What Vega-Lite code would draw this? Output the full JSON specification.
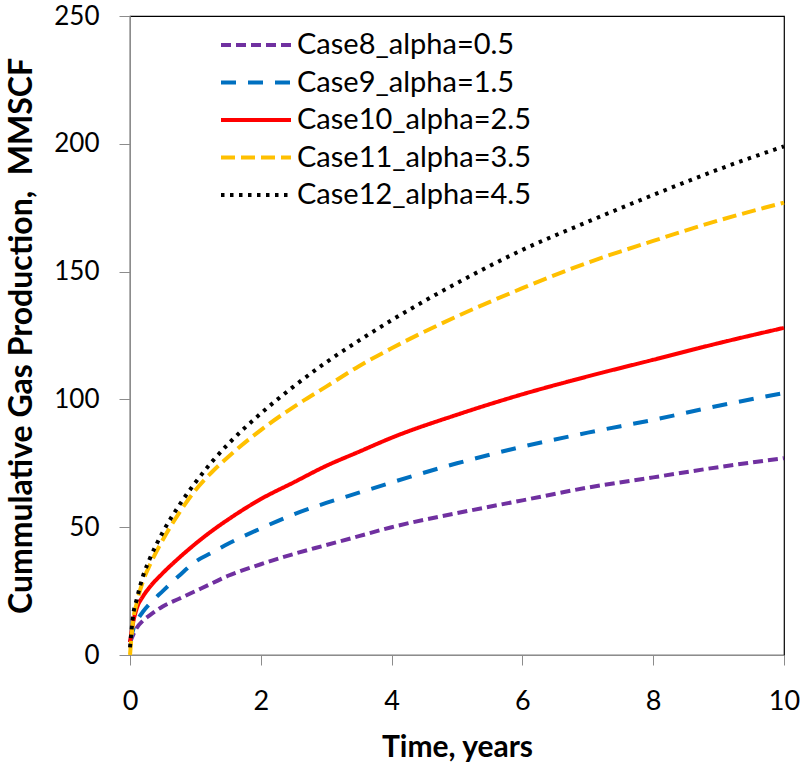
{
  "$schema": "https://vega.github.io/schema/vega-lite/v6.json",
  "width": 654,
  "height": 639,
  "autosize": "none",
  "padding": {"left": 130, "top": 16, "right": 22, "bottom": 110},
  "background": "white",
  "config": {
    "font": "Lato",
    "view": {"stroke": "#000000", "strokeWidth": 1.2},
    "axis": {"grid": false, "domainColor": "#8c8c8c", "tickColor": "#8c8c8c", "labelColor": "#000000", "titleColor": "#000000", "labelFont": "Lato", "titleFont": "Lato"}
  },
  "data": {"values": [
    {"s":"Case8_alpha=0.5","t":0,"v":5},{"s":"Case8_alpha=0.5","t":0.05,"v":8},{"s":"Case8_alpha=0.5","t":0.1,"v":10.5},{"s":"Case8_alpha=0.5","t":0.2,"v":13.5},{"s":"Case8_alpha=0.5","t":0.3,"v":15.5},{"s":"Case8_alpha=0.5","t":0.5,"v":19},{"s":"Case8_alpha=0.5","t":0.75,"v":22},{"s":"Case8_alpha=0.5","t":1,"v":25},{"s":"Case8_alpha=0.5","t":1.25,"v":28},{"s":"Case8_alpha=0.5","t":1.5,"v":31},{"s":"Case8_alpha=0.5","t":2,"v":35.5},{"s":"Case8_alpha=0.5","t":2.5,"v":39.5},{"s":"Case8_alpha=0.5","t":3,"v":43},{"s":"Case8_alpha=0.5","t":3.5,"v":46.5},{"s":"Case8_alpha=0.5","t":4,"v":50},{"s":"Case8_alpha=0.5","t":5,"v":55.5},{"s":"Case8_alpha=0.5","t":6,"v":60.5},{"s":"Case8_alpha=0.5","t":7,"v":65.5},{"s":"Case8_alpha=0.5","t":8,"v":69.5},{"s":"Case8_alpha=0.5","t":9,"v":73.5},{"s":"Case8_alpha=0.5","t":10,"v":77},
    {"s":"Case9_alpha=1.5","t":0,"v":5},{"s":"Case9_alpha=1.5","t":0.05,"v":10},{"s":"Case9_alpha=1.5","t":0.1,"v":13},{"s":"Case9_alpha=1.5","t":0.2,"v":17},{"s":"Case9_alpha=1.5","t":0.3,"v":20},{"s":"Case9_alpha=1.5","t":0.5,"v":25},{"s":"Case9_alpha=1.5","t":0.75,"v":31},{"s":"Case9_alpha=1.5","t":1,"v":36.5},{"s":"Case9_alpha=1.5","t":1.25,"v":40},{"s":"Case9_alpha=1.5","t":1.5,"v":43.5},{"s":"Case9_alpha=1.5","t":2,"v":49.5},{"s":"Case9_alpha=1.5","t":2.5,"v":55},{"s":"Case9_alpha=1.5","t":3,"v":59.5},{"s":"Case9_alpha=1.5","t":3.5,"v":63.5},{"s":"Case9_alpha=1.5","t":4,"v":67.5},{"s":"Case9_alpha=1.5","t":5,"v":75},{"s":"Case9_alpha=1.5","t":6,"v":81.5},{"s":"Case9_alpha=1.5","t":7,"v":87},{"s":"Case9_alpha=1.5","t":8,"v":92},{"s":"Case9_alpha=1.5","t":9,"v":97.5},{"s":"Case9_alpha=1.5","t":10,"v":102.5},
    {"s":"Case10_alpha=2.5","t":0,"v":5},{"s":"Case10_alpha=2.5","t":0.05,"v":13},{"s":"Case10_alpha=2.5","t":0.1,"v":18},{"s":"Case10_alpha=2.5","t":0.2,"v":23},{"s":"Case10_alpha=2.5","t":0.3,"v":26.5},{"s":"Case10_alpha=2.5","t":0.5,"v":32},{"s":"Case10_alpha=2.5","t":0.75,"v":38},{"s":"Case10_alpha=2.5","t":1,"v":43.5},{"s":"Case10_alpha=2.5","t":1.25,"v":48.5},{"s":"Case10_alpha=2.5","t":1.5,"v":53},{"s":"Case10_alpha=2.5","t":2,"v":61},{"s":"Case10_alpha=2.5","t":2.5,"v":67.5},{"s":"Case10_alpha=2.5","t":3,"v":74},{"s":"Case10_alpha=2.5","t":3.5,"v":79.5},{"s":"Case10_alpha=2.5","t":4,"v":85},{"s":"Case10_alpha=2.5","t":5,"v":94},{"s":"Case10_alpha=2.5","t":6,"v":102},{"s":"Case10_alpha=2.5","t":7,"v":109},{"s":"Case10_alpha=2.5","t":8,"v":115.5},{"s":"Case10_alpha=2.5","t":9,"v":122},{"s":"Case10_alpha=2.5","t":10,"v":128},
    {"s":"Case11_alpha=3.5","t":0,"v":0},{"s":"Case11_alpha=3.5","t":0.05,"v":14},{"s":"Case11_alpha=3.5","t":0.1,"v":20},{"s":"Case11_alpha=3.5","t":0.2,"v":29},{"s":"Case11_alpha=3.5","t":0.3,"v":35},{"s":"Case11_alpha=3.5","t":0.5,"v":45},{"s":"Case11_alpha=3.5","t":0.75,"v":55.5},{"s":"Case11_alpha=3.5","t":1,"v":64.5},{"s":"Case11_alpha=3.5","t":1.25,"v":71.5},{"s":"Case11_alpha=3.5","t":1.5,"v":77.5},{"s":"Case11_alpha=3.5","t":2,"v":88},{"s":"Case11_alpha=3.5","t":2.5,"v":97},{"s":"Case11_alpha=3.5","t":3,"v":105},{"s":"Case11_alpha=3.5","t":3.5,"v":113},{"s":"Case11_alpha=3.5","t":4,"v":120},{"s":"Case11_alpha=3.5","t":5,"v":132.5},{"s":"Case11_alpha=3.5","t":6,"v":143.5},{"s":"Case11_alpha=3.5","t":7,"v":153.5},{"s":"Case11_alpha=3.5","t":8,"v":162},{"s":"Case11_alpha=3.5","t":9,"v":170},{"s":"Case11_alpha=3.5","t":10,"v":177},
    {"s":"Case12_alpha=4.5","t":0,"v":3},{"s":"Case12_alpha=4.5","t":0.05,"v":16},{"s":"Case12_alpha=4.5","t":0.1,"v":21.5},{"s":"Case12_alpha=4.5","t":0.2,"v":31},{"s":"Case12_alpha=4.5","t":0.3,"v":37.5},{"s":"Case12_alpha=4.5","t":0.5,"v":48},{"s":"Case12_alpha=4.5","t":0.75,"v":58.5},{"s":"Case12_alpha=4.5","t":1,"v":67.5},{"s":"Case12_alpha=4.5","t":1.25,"v":75.5},{"s":"Case12_alpha=4.5","t":1.5,"v":82.5},{"s":"Case12_alpha=4.5","t":2,"v":94.5},{"s":"Case12_alpha=4.5","t":2.5,"v":105},{"s":"Case12_alpha=4.5","t":3,"v":114.5},{"s":"Case12_alpha=4.5","t":3.5,"v":123},{"s":"Case12_alpha=4.5","t":4,"v":131},{"s":"Case12_alpha=4.5","t":5,"v":145.5},{"s":"Case12_alpha=4.5","t":6,"v":158.5},{"s":"Case12_alpha=4.5","t":7,"v":169.5},{"s":"Case12_alpha=4.5","t":8,"v":180},{"s":"Case12_alpha=4.5","t":9,"v":190},{"s":"Case12_alpha=4.5","t":10,"v":199}
  ]},
  "mark": {"type": "line", "strokeCap": "butt", "interpolate": "monotone"},
  "encoding": {
    "x": {"field": "t", "type": "quantitative", "scale": {"domain": [0, 10], "nice": false},
      "axis": {"values": [0,2,4,6,8,10], "title": "Time, years", "titleFontSize": 30, "titleFontWeight": "bold", "labelFontSize": 27, "tickSize": 10, "labelPadding": 23, "titlePadding": 18, "labelFlush": false}},
    "y": {"field": "v", "type": "quantitative", "scale": {"domain": [0, 250], "nice": false},
      "axis": {"values": [0,50,100,150,200,250], "title": "Cummulative Gas Production,\u00a0 MMSCF", "titleFontSize": 32, "titleFontWeight": "bold", "labelFontSize": 26, "tickSize": 11, "labelPadding": 20, "titlePadding": 15, "labelFlush": false}},
    "color": {"field": "s", "type": "nominal",
      "scale": {"domain": ["Case8_alpha=0.5","Case9_alpha=1.5","Case10_alpha=2.5","Case11_alpha=3.5","Case12_alpha=4.5"], "range": ["#7030A0","#0070C0","#FF0000","#FFC000","#000000"]},
      "legend": {"title": null, "orient": "none", "legendX": 110, "legendY": 13, "symbolType": "M-2.5,0H2.5", "symbolSize": 784, "labelFontSize": 29, "labelColor": "#000000", "labelOffset": 25, "rowPadding": 6.5, "padding": 0, "labelLimit": 400}},
    "strokeDash": {"field": "s", "type": "nominal",
      "scale": {"domain": ["Case8_alpha=0.5","Case9_alpha=1.5","Case10_alpha=2.5","Case11_alpha=3.5","Case12_alpha=4.5"], "range": [[10,5],[15,12],[1,0],[14,6],[3.5,5.5]]},
      "legend": {"title": null}},
    "strokeWidth": {"field": "s", "type": "nominal",
      "scale": {"domain": ["Case8_alpha=0.5","Case9_alpha=1.5","Case10_alpha=2.5","Case11_alpha=3.5","Case12_alpha=4.5"], "range": [4,4,1.8,5,4]},
      "legend": {"title": null}}
  }
}
